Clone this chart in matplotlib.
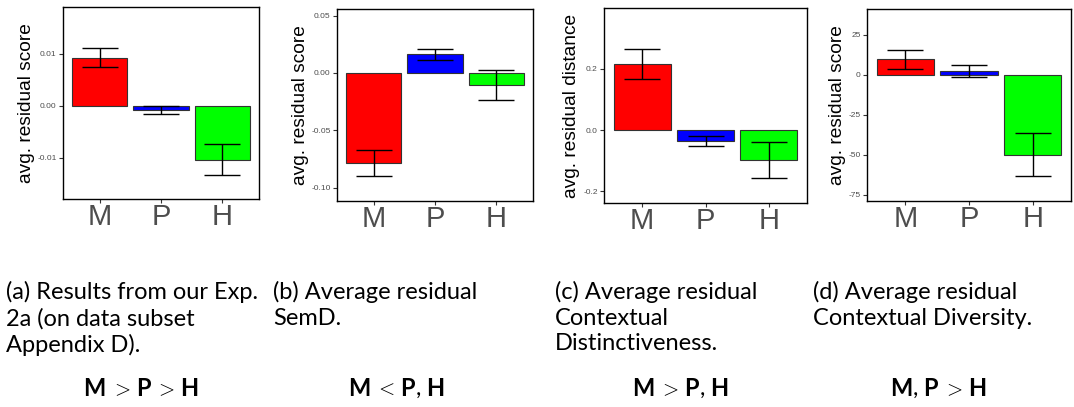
import matplotlib.pyplot as plt

plt.rcParams["mathtext.fontset"] = "cm"

# group labels and bar colours
groups = ["M", "P", "H"]
colors = ["#ff0000", "#0000ff", "#00ff00"]

# (a) Exp. 2a
means_a = [0.0092, -0.0008, -0.0104]
lo_a = [0.0074, -0.0016, -0.0132]
hi_a = [0.0111, -0.0001, -0.0074]

# (b) SemD
means_b = [-0.0788, 0.0163, -0.0105]
lo_b = [-0.0899, 0.0113, -0.0236]
hi_b = [-0.0675, 0.0206, 0.0029]

# (c) contextual distinctiveness
means_c = [0.216, -0.035, -0.098]
lo_c = [0.167, -0.052, -0.158]
hi_c = [0.263, -0.0186, -0.038]

# (d) contextual diversity
means_d = [9.8, 2.5, -50.0]
lo_d = [3.9, -1.5, -63.0]
hi_d = [15.8, 6.0, -36.5]

ylabels = ["avg. residual score", "avg. residual score",
           "avg. residual distance", "avg. residual score"]
yticks = [[-0.01, 0.00, 0.01], [-0.10, -0.05, 0.00, 0.05],
          [-0.2, 0.0, 0.2], [-75, -50, -25, 0, 25]]
yticklabels = [["-0.01", "0.00", "0.01"], ["-0.10", "-0.05", "0.00", "0.05"],
               ["-0.2", "0.0", "0.2"], ["-75", "-50", "-25", "0", "25"]]
ylims = [(-0.0179, 0.019), (-0.1117, 0.0558), (-0.238, 0.398), (-78.75, 41.25)]

captions = [
    "(a) Results from our Exp.\n2a (on data subset\nAppendix D).",
    "(b) Average residual\nSemD.",
    "(c) Average residual\nContextual\nDistinctiveness.",
    "(d) Average residual\nContextual Diversity.",
]
# each ordering split into (text, kind) pieces: b = bold letter, r = relation, c = comma
orders = [
    [("M", "b"), (">", "r"), ("P", "b"), (">", "r"), ("H", "b")],
    [("M", "b"), ("<", "r"), ("P", "b"), (",", "c"), ("H", "b")],
    [("M", "b"), (">", "r"), ("P", "b"), (",", "c"), ("H", "b")],
    [("M", "b"), (",", "c"), ("P", "b"), (">", "r"), ("H", "b")],
]

W, H = 1074, 407
fig = plt.figure(figsize=(W / 100, H / 100), dpi=100)

# axes boxes in pixels: left, top, right, bottom
boxes = [(63, 7, 259, 199), (337, 9, 533, 201), (604, 8, 807, 203), (867, 9, 1071, 201)]
data = [(means_a, lo_a, hi_a), (means_b, lo_b, hi_b),
        (means_c, lo_c, hi_c), (means_d, lo_d, hi_d)]

for i, (box, (m, lo, hi)) in enumerate(zip(boxes, data)):
    l, t, r, b = box
    ax = fig.add_axes([l / W, 1 - b / H, (r - l) / W, (b - t) / H])
    x = range(1, len(groups) + 1)
    ax.bar(x, m, width=0.9, color=colors, edgecolor="#333333", linewidth=0.8)
    yerr = [[mm - ll for mm, ll in zip(m, lo)], [hh - mm for mm, hh in zip(m, hi)]]
    ax.errorbar(x, m, yerr=yerr, fmt="none", ecolor="black", elinewidth=1.0,
                capsize=13, capthick=1.0)
    ax.set_xlim(0.4, 3.6)
    ax.set_ylim(*ylims[i])
    ax.set_xticks(list(x))
    ax.set_xticklabels(groups, fontsize=21, color="#4d4d4d", family="Liberation Sans")
    ax.set_yticks(yticks[i])
    ax.set_yticklabels(yticklabels[i], fontsize=6, color="#4d4d4d", family="Liberation Sans")
    ax.tick_params(axis="both", length=3, width=0.8, color="#333333", pad=1.5)
    ax.tick_params(axis="x", pad=0)
    ax.set_ylabel(ylabels[i], fontsize=13.8, family="Liberation Sans", labelpad=2)
    for s in ax.spines.values():
        s.set_linewidth(1.0)
        s.set_color("black")

cap_x = [6, 273, 555, 813]
ord_x = [141, 396, 680, 938]
renderer = fig.canvas.get_renderer()
for i in range(4):
    fig.text(cap_x[i] / W, 1 - 281 / H, captions[i], fontsize=17, family="Lato",
             va="top", ha="left", linespacing=1.27)
    # draw the ordering piece by piece (with pixel gaps), then centre it
    pieces, gaps = [], []
    for s, kind in orders[i]:
        if kind == "b":
            p = fig.text(0, 1 - 389 / H, s, fontsize=17, family="Lato",
                         fontweight="bold", va="center")
            gap = (0, 0)
        elif kind == "r":
            p = fig.text(0, 1 - 389 / H, "$" + s + "$", fontsize=15, va="center")
            gap = (5, 5)
        else:
            p = fig.text(0, 1 - 389 / H, s, fontsize=17, family="Lato", va="center")
            gap = (1, 5)
        pieces.append(p)
        gaps.append(gap)
    widths = [p.get_window_extent(renderer).width for p in pieces]
    total = sum(widths) + sum(g[0] + g[1] for g in gaps)
    xpos = ord_x[i] - total / 2
    for p, w, g in zip(pieces, widths, gaps):
        xpos += g[0]
        p.set_x(xpos / W)
        xpos += w + g[1]

fig.savefig("out.png", dpi=100)
